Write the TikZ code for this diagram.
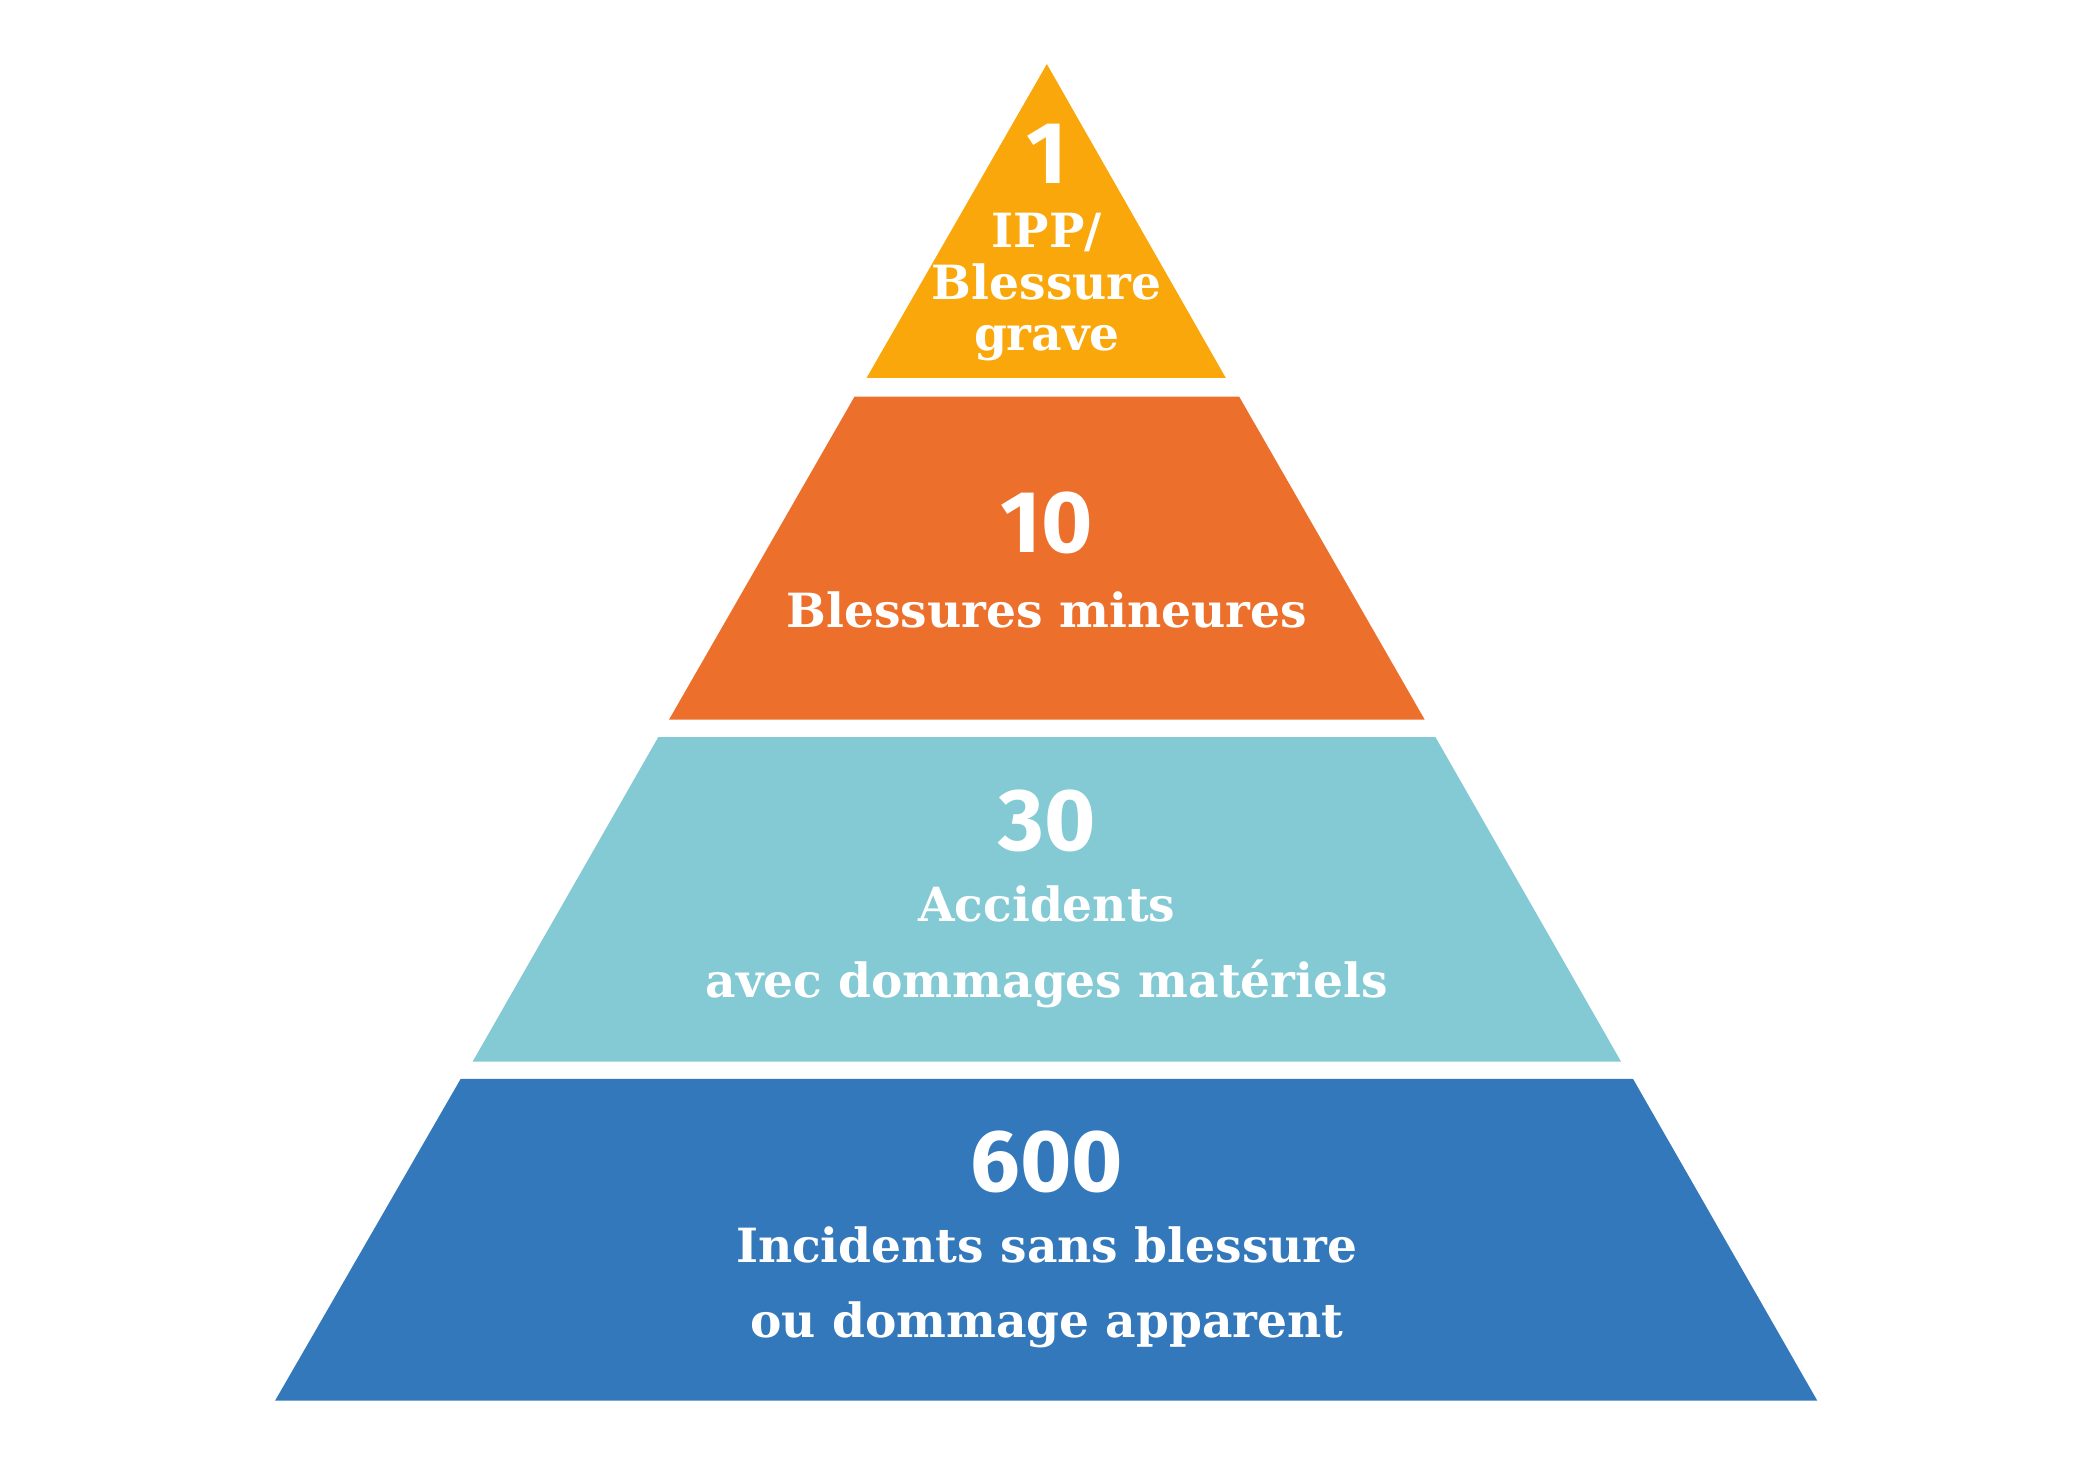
\documentclass[tikz,border=0pt]{standalone}
\usepackage{fontspec}
\setmainfont{DejaVu Serif}
\newfontfamily\numfont{Fira Sans}
\definecolor{tierA}{HTML}{F9A70B}
\definecolor{tierB}{HTML}{EC702B}
\definecolor{tierC}{HTML}{84CAD5}
\definecolor{tierD}{HTML}{3478BC}
\tikzset{
  number/.style={text=white,font=\numfont\bfseries\fontsize{25}{28}\selectfont},
  label/.style={text=white,align=center,font=\bfseries\fontsize{13.4}{21.5}\selectfont}
}
\begin{document}
\begin{tikzpicture}[x=0.01335cm,y=-0.01335cm]
\useasboundingbox (0,0) rectangle (1560,1092);
% tiers
\fill[tierA] (784,48) -- (918,283) -- (649,283) -- cycle;
\fill[tierB] (640,297) -- (928,297) -- (1067,539) -- (501,539) -- cycle;
\fill[tierC] (493,552) -- (1075,552) -- (1214,795) -- (354,795) -- cycle;
\fill[tierD] (345,808) -- (1223,808) -- (1361,1049) -- (206,1049) -- cycle;
% texts
\node[number] (nA) at (784,115) {1};
\node[label,font=\bfseries\fontsize{13.4}{14.6}\selectfont] (tA) at (784,215) {IPP/\\Blessure\\grave};
\node[number] (nB) at (784,392) {10};
\node[label] (tB) at (784,457) {Blessures mineures};
\node[number] (nC) at (784,615) {30};
\node[label] (tC) at (784,709) {Accidents\\avec dommages matériels};
\node[number] (nD) at (784,870) {600};
\node[label] (tD) at (784,964) {Incidents sans blessure\\ou dommage apparent};
\end{tikzpicture}
\end{document}
